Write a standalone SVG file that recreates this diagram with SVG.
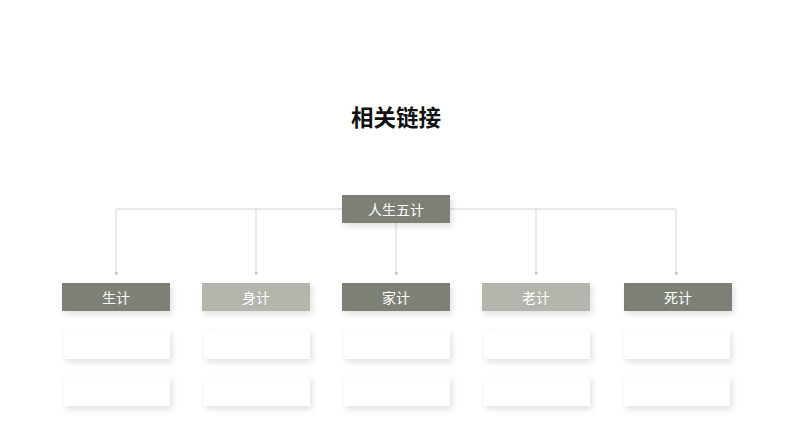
<svg xmlns="http://www.w3.org/2000/svg" width="794" height="447" viewBox="0 0 794 447">
<defs>
<style>
.t{font-family:"Noto Sans CJK SC","Noto Sans",sans-serif;fill:#fff;font-size:14px;text-anchor:middle;dominant-baseline:central}
.dk{fill:#7b8074}
.lt{fill:#b4b5ad}
.bl{fill:#fff}
.ln{stroke:#d2d2d2;stroke-width:1;fill:none}
</style>
<filter id="sh" x="-20%" y="-40%" width="140%" height="190%">
<feDropShadow dx="2" dy="3" stdDeviation="3" flood-color="#000" flood-opacity="0.12"/>
</filter>
<marker id="dot" viewBox="0 0 3 3" refX="1.5" refY="1.5" markerWidth="3" markerHeight="3" markerUnits="userSpaceOnUse">
<rect width="3" height="3" fill="#c4c4c4"/>
</marker>
</defs>
<rect width="794" height="447" fill="#fff"/>
<text x="396" y="116" style="font-family:'Noto Sans CJK SC',sans-serif;font-weight:bold;font-size:22.5px;text-anchor:middle;dominant-baseline:central;fill:#111">相关链接</text>
<g id="connectors">
<path class="ln" d="M116 209H676"/>
<path class="ln" d="M116 209V273" marker-end="url(#dot)"/>
<path class="ln" d="M256 209V273" marker-end="url(#dot)"/>
<path class="ln" d="M396 223V273" marker-end="url(#dot)"/>
<path class="ln" d="M536 209V273" marker-end="url(#dot)"/>
<path class="ln" d="M676 209V273" marker-end="url(#dot)"/>
</g>
<g id="root"><rect class="dk" x="342" y="195" width="108" height="28" filter="url(#sh)"/><text class="t" x="396" y="209">人生五计</text></g>
<g id="n1"><rect class="dk" x="62" y="283" width="108" height="28" filter="url(#sh)"/><text class="t" x="116" y="297">生计</text>
<rect class="bl" x="64" y="330" width="106" height="29" filter="url(#sh)"/><rect class="bl" x="64" y="377" width="106" height="29" filter="url(#sh)"/></g>
<g id="n2"><rect class="lt" x="202" y="283" width="108" height="28" filter="url(#sh)"/><text class="t" x="256" y="297">身计</text>
<rect class="bl" x="204" y="330" width="106" height="29" filter="url(#sh)"/><rect class="bl" x="204" y="377" width="106" height="29" filter="url(#sh)"/></g>
<g id="n3"><rect class="dk" x="342" y="283" width="108" height="28" filter="url(#sh)"/><text class="t" x="396" y="297">家计</text>
<rect class="bl" x="344" y="330" width="106" height="29" filter="url(#sh)"/><rect class="bl" x="344" y="377" width="106" height="29" filter="url(#sh)"/></g>
<g id="n4"><rect class="lt" x="482" y="283" width="108" height="28" filter="url(#sh)"/><text class="t" x="536" y="297">老计</text>
<rect class="bl" x="484" y="330" width="106" height="29" filter="url(#sh)"/><rect class="bl" x="484" y="377" width="106" height="29" filter="url(#sh)"/></g>
<g id="n5"><rect class="dk" x="624" y="283" width="108" height="28" filter="url(#sh)"/><text class="t" x="678" y="297">死计</text>
<rect class="bl" x="624" y="330" width="106" height="29" filter="url(#sh)"/><rect class="bl" x="624" y="377" width="106" height="29" filter="url(#sh)"/></g>
</svg>
